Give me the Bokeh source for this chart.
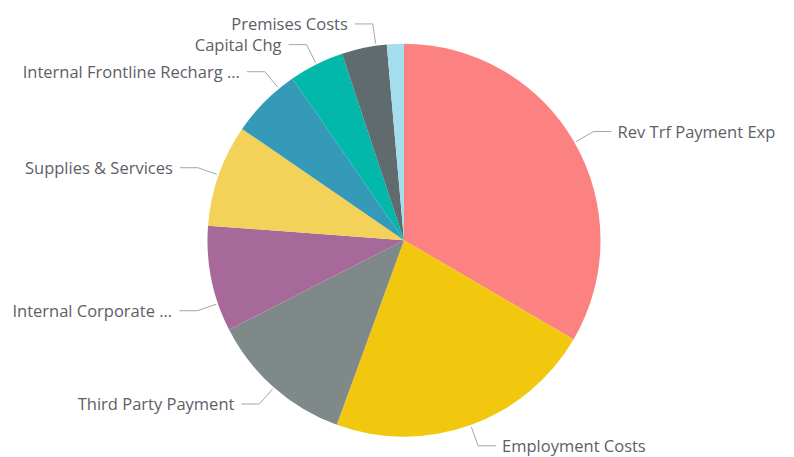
import math
from bokeh.plotting import figure
from bokeh.models import Range1d, ColumnDataSource
from bokeh.embed import file_html
from bokeh.resources import INLINE
from bokeh.core.properties import value

# ---- data (share of total, %, clockwise from 12 o'clock) ----
labels = ["Rev Trf Payment Exp", "Employment Costs", "Third Party Payment",
          "Internal Corporate ...", "Supplies & Services",
          "Internal Frontline Recharg ...", "Capital Chg", "Premises Costs", ""]
shares = [33.4, 22.1, 11.9, 8.7, 8.4, 5.8, 4.5, 3.7, 1.4]
colors = ["#FB8281", "#F2C80F", "#7F898A", "#A66999", "#F4D25A",
          "#3599B8", "#01B8AA", "#5F6B6D", "#A4DDEE"]
# label layout nudges (degrees) to avoid crowding, as in the reference
label_nudge_deg = [0, 0, 0, -7.4, 0, 5.5, 0, 3.5, 0]

W, H = 794, 457
p = figure(width=W, height=H, x_range=Range1d(0, W), y_range=Range1d(0, H),
           output_backend="svg", toolbar_location=None, min_border=0)
p.axis.visible = False
p.grid.visible = False
p.outline_line_color = None
p.background_fill_color = "white"
p.border_fill_color = "white"

cx, cy, r = 403.5, H - 239.7, 196.5

total = sum(shares)
starts, ends, mids = [], [], []
acc = 0.0
for s in shares:
    t0 = acc / total * 2 * math.pi
    acc += s
    t1 = acc / total * 2 * math.pi
    starts.append(math.pi / 2 - t0)
    ends.append(math.pi / 2 - t1)
    mids.append((t0 + t1) / 2)

src = ColumnDataSource(dict(start=starts, end=ends, color=colors))
p.wedge(x=cx, y=cy, radius=r, start_angle="start", end_angle="end",
        direction="clock", fill_color="color", line_color=None, source=src)

lx, ly, tx, ty, tt, ta = [], [], [], [], [], []
for lab, m, nd in zip(labels, mids, label_nudge_deg):
    if not lab:
        continue
    phi = m + math.radians(nd)
    x0, y0 = cx + (r + 2) * math.sin(phi), cy + (r + 2) * math.cos(phi)
    x1, y1 = cx + (r + 22) * math.sin(phi), cy + (r + 22) * math.cos(phi)
    right = math.sin(phi) > 0
    x2 = x1 + (18 if right else -18)
    lx.append([x0, x1, x2])
    ly.append([y0, y1, y1])
    tx.append(x2 + (6 if right else -7))
    ty.append(y1)
    tt.append(lab)
    ta.append("left" if right else "right")

p.multi_line(xs=lx, ys=ly, line_color="#A6A6A6", line_width=1)
p.text(x=tx, y=ty, text=tt, text_align=ta, text_baseline="middle",
       text_font=value("Open Sans"), text_font_size="16.5px",
       text_color="#5E5E66")

open("out.html", "w").write(file_html(p, INLINE))
